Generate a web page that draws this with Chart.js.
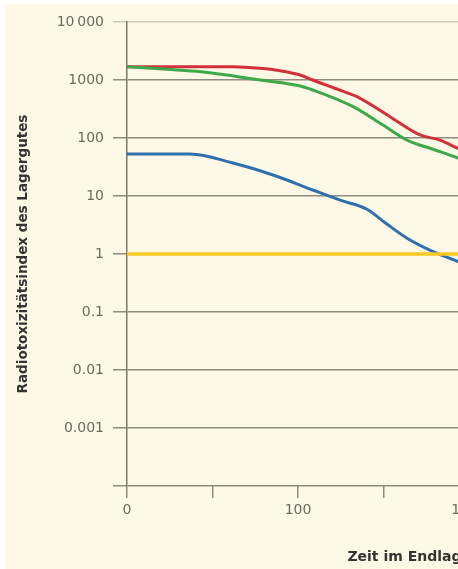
<!DOCTYPE html>
<html>
<head>
<meta charset="utf-8">
<script src="https://cdn.jsdelivr.net/npm/chart.js@4.4.1/dist/chart.umd.min.js"></script>
<style>
  html, body { margin: 0; padding: 0; background: #ffffff; overflow: hidden; width: 458px; height: 569px; }
  #wrap { position: absolute; left: 5px; top: 4px; width: 756px; height: 565px; background: #fdf9e6; }
</style>
</head>
<body>
<div id="wrap"><canvas id="c" width="756" height="565"></canvas></div>
<script>
// ---- data (x = years in repository, log scale; y = radiotoxicity index) ----
const redYears   = [10, 42, 60, 78, 103, 122, 164, 221, 345, 517, 676, 863, 1000];
const redValues  = [1700, 1690, 1590, 1450, 1220, 1000, 720, 515, 233, 113, 92, 66, 55];

const greenYears  = [10, 17, 27, 42, 60, 103, 122, 210, 314, 434, 615, 863, 1000];
const greenValues = [1700, 1530, 1390, 1170, 1000, 788, 673, 347, 167, 92, 64, 45, 38];

const blueYears  = [10, 23.4, 41.7, 71.5, 122, 176, 253, 323, 434, 615, 863, 1000];
const blueValues = [53, 53, 37, 23, 12.7, 8.5, 5.9, 3.46, 1.87, 1.1, 0.74, 0.6];

const yellowYears  = [10, 1000];
const yellowValues = [1, 1];

const yTickValues = [0.0001, 0.001, 0.01, 0.1, 1, 10, 100, 1000, 10000];
const yTickLabels = ['', '0.001', '0.01', '0.1', '1', '10', '100', '1000', '10\u2009000'];
const xTickValues = [10, 31.6, 100, 316, 1000, 3162, 10000, 31623];
const xTickLabels = ['0', '', '100', '', '1000', '', '10000', ''];

const yTitle = 'Radiotoxizitätsindex des Lagergutes';
const xTitle = 'Zeit im Endlager (Jahre)';

function pts(xs, ys) { return xs.map((x, i) => ({ x: x, y: ys[i] })); }

const FONT = '"DejaVu Sans", sans-serif';
const GRID = '#8e8c80';

new Chart(document.getElementById('c'), {
  type: 'line',
  data: {
    datasets: [
      { data: pts(yellowYears, yellowValues), borderColor: '#f6c922', borderWidth: 3.5, pointRadius: 0, tension: 0 },
      { data: pts(blueYears, blueValues), borderColor: '#2f6fae', borderWidth: 3, pointRadius: 0, cubicInterpolationMode: 'monotone' },
      { data: pts(greenYears, greenValues), borderColor: '#3da94a', borderWidth: 3, pointRadius: 0, cubicInterpolationMode: 'monotone' },
      { data: pts(redYears, redValues), borderColor: '#d2303a', borderWidth: 3, pointRadius: 0, cubicInterpolationMode: 'monotone' }
    ]
  },
  options: {
    responsive: false,
    animation: false,
    layout: { padding: { top: 18, right: 4, left: 0, bottom: 0 } },
    plugins: { legend: { display: false }, tooltip: { enabled: false } },
    scales: {
      x: {
        type: 'logarithmic',
        min: 10,
        max: 48300,
        afterBuildTicks: s => { s.ticks = xTickValues.map(v => ({ value: v })); },
        afterFit: s => { s.height = 83; },
        ticks: {
          autoSkip: false, maxRotation: 0, padding: 4,
          color: '#6b6b60', font: { family: FONT, size: 14 },
          callback: (v, i) => xTickLabels[i]
        },
        grid: { drawOnChartArea: false, drawTicks: true, tickLength: 12, color: GRID, lineWidth: 1.5 },
        border: { display: false },
        title: { display: true, text: xTitle, color: '#333', font: { family: FONT, size: 14, weight: 'bold' }, padding: { top: 0, bottom: 3 } }
      },
      y: {
        type: 'logarithmic',
        min: 0.0001,
        max: 10000,
        afterBuildTicks: s => { s.ticks = yTickValues.map(v => ({ value: v })); },
        afterFit: s => { s.width = 122; },
        ticks: {
          autoSkip: false, padding: 9,
          color: '#6b6b60', font: { family: FONT, size: 14 },
          callback: (v, i) => yTickLabels[i]
        },
        grid: {
          drawOnChartArea: true, drawTicks: true, tickLength: 14, lineWidth: 1.5,
          color: ctx => (ctx.tick && ctx.tick.value === 10000) ? '#cfcbb4' : GRID
        },
        border: { display: true, color: '#7a786e', width: 1.5 },
        title: { display: true, text: yTitle, color: '#333', font: { family: FONT, size: 13.5, weight: 'bold' }, padding: { top: 10, bottom: 0 } }
      }
    }
  }
});
</script>
</body>
</html>
